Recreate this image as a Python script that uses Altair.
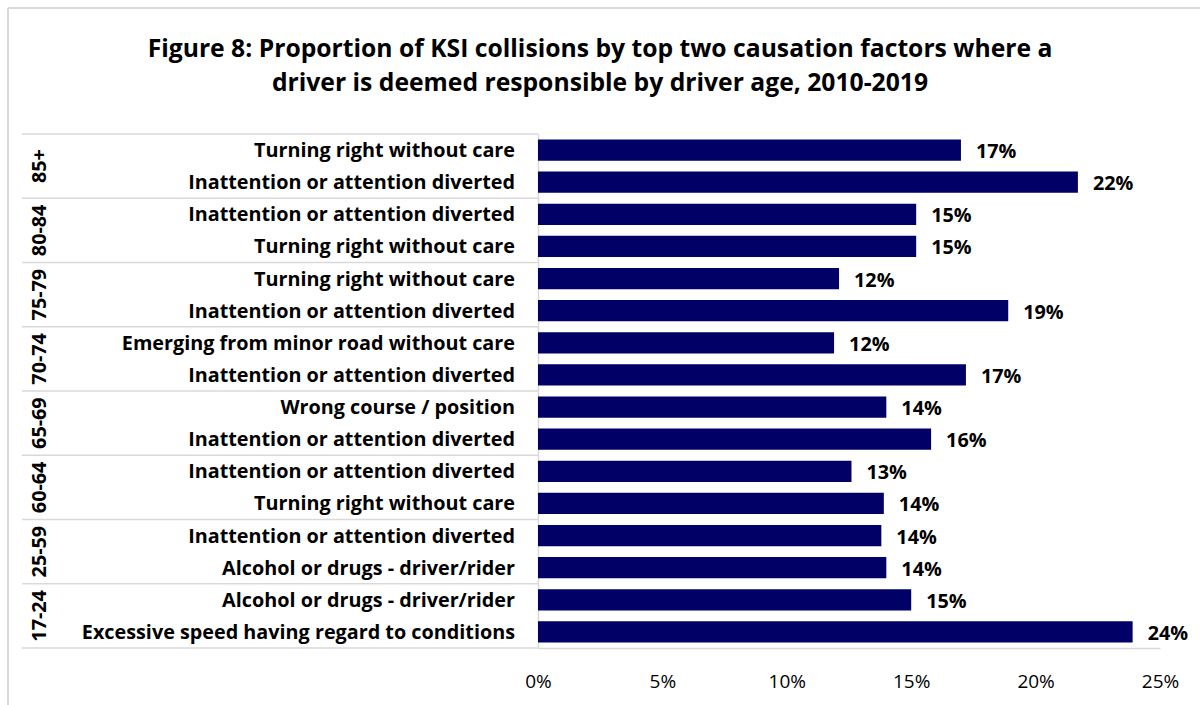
import altair as alt
import pandas as pd

# Age bands, top to bottom; each band holds two causation factors
ages = ["85+", "80-84", "75-79", "70-74", "65-69", "60-64", "25-59", "17-24"]

factors = [
    "Turning right without care",
    "Inattention or attention diverted",
    "Inattention or attention diverted",
    "Turning right without care",
    "Turning right without care",
    "Inattention or attention diverted",
    "Emerging from minor road without care",
    "Inattention or attention diverted",
    "Wrong course / position",
    "Inattention or attention diverted",
    "Inattention or attention diverted",
    "Turning right without care",
    "Inattention or attention diverted",
    "Alcohol or drugs - driver/rider",
    "Alcohol or drugs - driver/rider",
    "Excessive speed having regard to conditions",
]

shares = [
    0.170, 0.217,
    0.152, 0.152,
    0.121, 0.189,
    0.119, 0.172,
    0.140, 0.158,
    0.126, 0.139,
    0.138, 0.140,
    0.150, 0.239,
]

x_ticks = [0, 0.05, 0.10, 0.15, 0.20, 0.25]

title_lines = [
    "Figure 8: Proportion of KSI collisions by top two causation factors where a",
    "driver is deemed responsible by driver age, 2010-2019",
]

FONT = "Open Sans"
NAVY = "#000066"
GRID = "#d9d9d9"
LABEL_SIZE = 19.8

rows = pd.DataFrame({
    "row": list(range(len(factors))),
    "factor": factors,
    "share": shares,
})
bands = pd.DataFrame({"g": list(range(len(ages))), "age": ages})
seps = pd.DataFrame({"k": list(range(len(ages) + 1))})
titles = pd.DataFrame({"line": list(range(len(title_lines))), "text": title_lines})

n_rows = len(factors)
y_scale = alt.Scale(domain=[-0.5, n_rows - 0.5], reverse=True, nice=False, zero=False)
x_scale = alt.Scale(domain=[0, 0.25], nice=False)

base = alt.Chart(rows)

bars = base.transform_calculate(
    y0="datum.row - 0.33", y1="datum.row + 0.33", x0="0"
).mark_rect(color=NAVY).encode(
    x=alt.X(
        "x0:Q",
        scale=x_scale,
        axis=alt.Axis(
            values=x_ticks,
            format=".0%",
            title=None,
            grid=False,
            ticks=False,
            domain=True,
            domainColor=GRID,
            domainWidth=1.5,
            labelFont=FONT,
            labelFontSize=19,
            labelColor="#000000",
            labelPadding=24,
            labelFlush=False,
        ),
    ),
    x2="share:Q",
    y=alt.Y(
        "y0:Q",
        scale=y_scale,
        axis=alt.Axis(
            title=None, labels=False, ticks=False, grid=False,
            domain=True, domainColor=GRID, domainWidth=1.5,
        ),
    ),
    y2="y1:Q",
)

value_labels = base.mark_text(
    align="left", baseline="middle", dx=15, dy=2,
    font=FONT, fontSize=LABEL_SIZE, fontWeight="bold", color="#000000",
).encode(
    x=alt.X("share:Q", scale=x_scale),
    y=alt.Y("row:Q", scale=y_scale),
    text=alt.Text("share:Q", format=".0%"),
)

factor_labels = base.mark_text(
    align="right", baseline="middle", dy=1,
    font=FONT, fontSize=LABEL_SIZE, fontWeight="bold", color="#000000",
).encode(
    x=alt.value(-23),
    y=alt.Y("row:Q", scale=y_scale),
    text="factor:N",
)

age_labels = alt.Chart(bands).transform_calculate(
    yc="datum.g * 2 + 0.5"
).mark_text(
    align="center", baseline="middle", angle=270,
    font=FONT, fontSize=LABEL_SIZE, fontWeight="bold", color="#000000",
).encode(
    x=alt.value(-498),
    y=alt.Y("yc:Q", scale=y_scale),
    text="age:N",
)

separators = alt.Chart(seps).transform_calculate(
    ys="datum.k * 2 - 0.5"
).mark_rule(color=GRID, strokeWidth=1.5).encode(
    x=alt.value(-516),
    x2=alt.value(0),
    y=alt.Y("ys:Q", scale=y_scale),
)

# Outer chart frame (top and left edges)
frame_top = alt.Chart(seps).mark_rule(color=GRID, strokeWidth=1.5).encode(
    x=alt.value(-530), x2=alt.value(662), y=alt.value(-126)
)
frame_left = alt.Chart(seps).mark_rule(color=GRID, strokeWidth=1.5).encode(
    x=alt.value(-530), y=alt.value(-126), y2=alt.value(571)
)

# Two-line heading centred over the whole figure
heading = alt.Chart(titles).transform_calculate(
    ty="-84 + datum.line * 34"
).mark_text(
    align="center", baseline="middle",
    font=FONT, fontSize=24.7, fontWeight="bold", color="#000000",
).encode(
    x=alt.value(62),
    y=alt.Y("ty:Q", scale=None),
    text="text:N",
)

chart = alt.layer(
    frame_top, frame_left, separators, bars, value_labels, factor_labels,
    age_labels, heading,
).properties(
    width=622,
    height=514,
    background="white",
    autosize=alt.AutoSizeParams(type="none"),
    padding={"left": 538, "top": 134, "right": 40, "bottom": 57},
).configure_view(stroke=None)

chart.save("out.html", embed_options={"renderer": "svg", "actions": False})
